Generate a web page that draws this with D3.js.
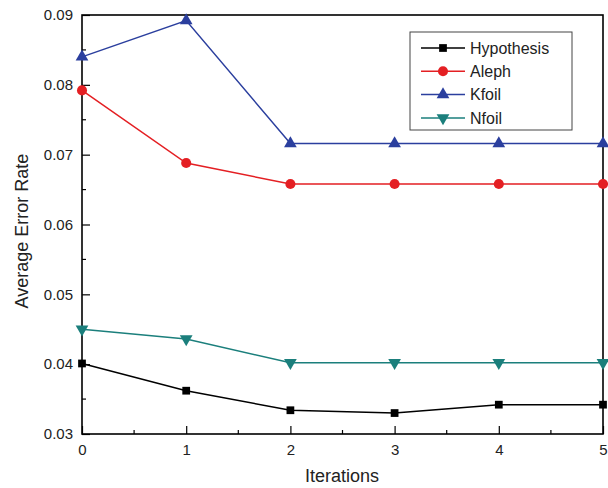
<!DOCTYPE html>
<html>
<head>
<meta charset="utf-8">
<script src="https://cdn.jsdelivr.net/npm/d3@7"></script>
<style>
  body { margin: 0; background: #fff; }
  text { font-family: "Liberation Sans", Arial, sans-serif; fill: #222; }
</style>
</head>
<body>
<svg id="chart"></svg>
<script>
const iterations = [0, 1, 2, 3, 4, 5];
const seriesNames = ['Hypothesis', 'Aleph', 'Kfoil', 'Nfoil'];
const hypothesis = [0.0401, 0.0362, 0.0334, 0.0330, 0.0342, 0.0342];
const aleph = [0.0792, 0.0688, 0.0658, 0.0658, 0.0658, 0.0658];
const kfoil = [0.0840, 0.0892, 0.0716, 0.0716, 0.0716, 0.0716];
const nfoil = [0.0450, 0.0436, 0.0402, 0.0402, 0.0402, 0.0402];
const yTicks = [0.03, 0.04, 0.05, 0.06, 0.07, 0.08, 0.09];

const width = 608, height = 488;
const marginLeft = 82, marginRight = 5, marginTop = 15, marginBottom = 54;

const svg = d3.select('#chart')
  .attr('width', width)
  .attr('height', height);

const x = d3.scaleLinear()
  .domain([0, 5])
  .range([marginLeft, width - marginRight]);

const y = d3.scaleLinear()
  .domain([0.03, 0.09])
  .range([height - marginBottom, marginTop]);

// minor ticks (inside)
const xMinor = d3.range(0.5, 5, 1);
const yMinor = d3.range(0.035, 0.09, 0.01);

svg.append('g').selectAll('line')
  .data(xMinor)
  .join('line')
  .attr('x1', d => x(d)).attr('x2', d => x(d))
  .attr('y1', y(0.03)).attr('y2', y(0.03) - 4)
  .attr('stroke', '#000').attr('stroke-width', 1.2);

svg.append('g').selectAll('line')
  .data(yMinor)
  .join('line')
  .attr('x1', x(0)).attr('x2', x(0) + 4)
  .attr('y1', d => y(d)).attr('y2', d => y(d))
  .attr('stroke', '#000').attr('stroke-width', 1.2);

// axes with ticks pointing inward
const xAxis = svg.append('g')
  .attr('transform', `translate(0,${y(0.03)})`)
  .call(d3.axisBottom(x).tickValues(iterations).tickFormat(d3.format('d')).tickSizeInner(-8).tickSizeOuter(0).tickPadding(10));
const yAxis = svg.append('g')
  .attr('transform', `translate(${x(0)},0)`)
  .call(d3.axisLeft(y).tickValues(yTicks).tickFormat(d3.format('.2f')).tickSizeInner(-8).tickSizeOuter(0).tickPadding(9));

[xAxis, yAxis].forEach(a => {
  a.select('.domain').remove();
  a.selectAll('.tick line').attr('stroke', '#000').attr('stroke-width', 1.2);
  a.selectAll('.tick text')
    .style('font-size', '15px')
    .style('font-family', '"Liberation Sans", Arial, sans-serif')
    .attr('fill', '#222');
});

// frame
svg.append('rect')
  .attr('x', x(0)).attr('y', y(0.09))
  .attr('width', x(5) - x(0)).attr('height', y(0.03) - y(0.09))
  .attr('fill', 'none').attr('stroke', '#000').attr('stroke-width', 1.6);

// axis titles
svg.append('text')
  .attr('x', 342).attr('y', 482)
  .attr('text-anchor', 'middle')
  .style('font-size', '18px')
  .text('Iterations');
svg.append('text')
  .attr('transform', `translate(28,231) rotate(-90)`)
  .attr('text-anchor', 'middle')
  .style('font-size', '18px')
  .text('Average Error Rate');

const series = [
  { name: seriesNames[0], values: hypothesis, color: '#000000', shape: d3.symbolSquare, size: 60, rot: 0 },
  { name: seriesNames[1], values: aleph, color: '#e41f23', shape: d3.symbolCircle, size: 80, rot: 0 },
  { name: seriesNames[2], values: kfoil, color: '#2b3f9e', shape: d3.symbolTriangle, size: 70, rot: 0 },
  { name: seriesNames[3], values: nfoil, color: '#1b7f7c', shape: d3.symbolTriangle, size: 70, rot: 180 },
];

const line = d3.line()
  .x((d, i) => x(iterations[i]))
  .y(d => y(d));

series.forEach(s => {
  svg.append('path')
    .datum(s.values)
    .attr('d', line)
    .attr('fill', 'none')
    .attr('stroke', s.color)
    .attr('stroke-width', 1.5);
  svg.append('g').selectAll('path')
    .data(s.values)
    .join('path')
    .attr('d', d3.symbol().type(s.shape).size(s.size)())
    .attr('transform', (d, i) => `translate(${x(iterations[i])},${y(d)}) rotate(${s.rot})`)
    .attr('fill', s.color);
});

// legend
const legend = svg.append('g');
legend.append('rect')
  .attr('x', 410).attr('y', 32)
  .attr('width', 162).attr('height', 98)
  .attr('fill', '#fff').attr('stroke', '#444').attr('stroke-width', 1);

series.forEach((s, i) => {
  const ly = 48 + i * 23.3;
  legend.append('line')
    .attr('x1', 421).attr('x2', 465)
    .attr('y1', ly).attr('y2', ly)
    .attr('stroke', s.color).attr('stroke-width', 1.5);
  legend.append('path')
    .attr('d', d3.symbol().type(s.shape).size(s.size)())
    .attr('transform', `translate(443,${ly}) rotate(${s.rot})`)
    .attr('fill', s.color);
  legend.append('text')
    .attr('x', 470).attr('y', ly)
    .attr('dy', '0.35em')
    .style('font-size', '16px')
    .text(s.name);
});
</script>
</body>
</html>
